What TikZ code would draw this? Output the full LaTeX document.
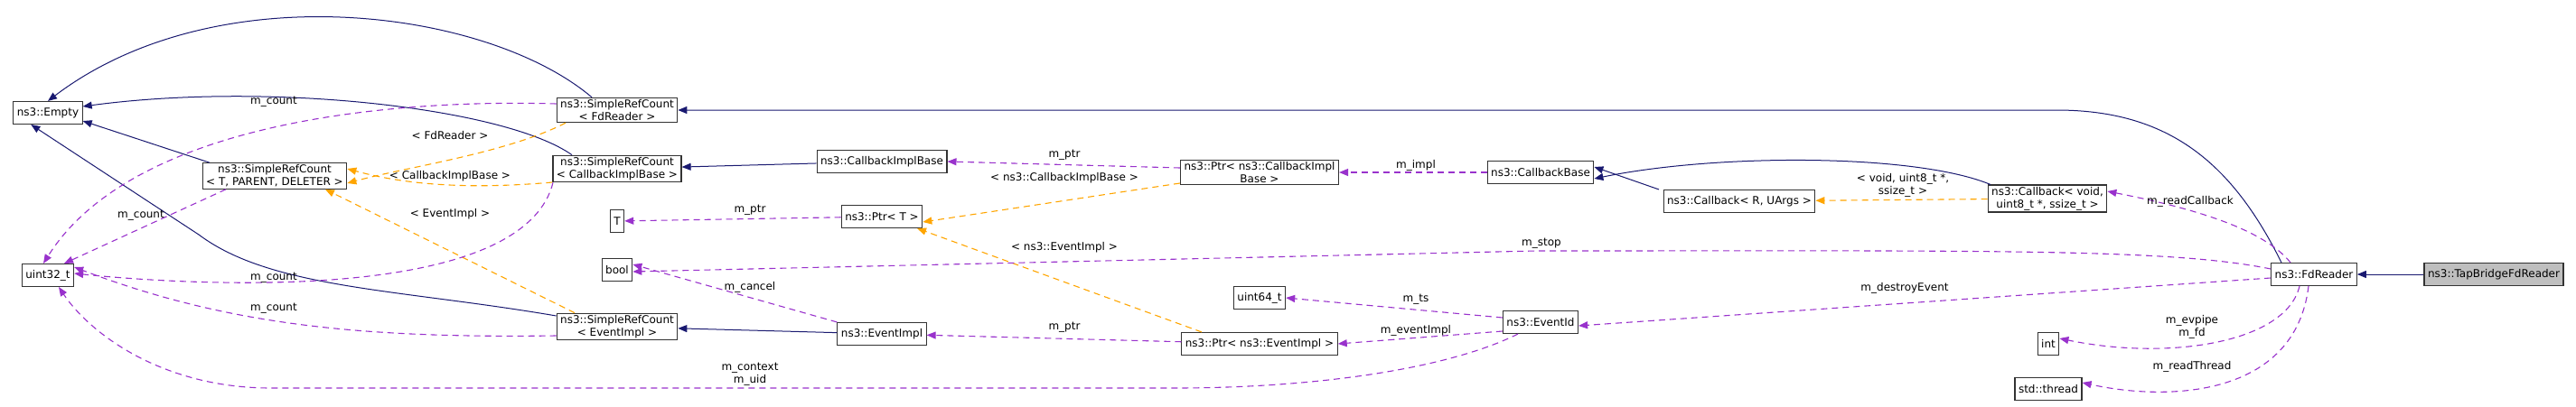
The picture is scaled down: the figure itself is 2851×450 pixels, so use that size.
\documentclass[tikz,border=0pt]{standalone}
\usepackage{fontspec}
\setmainfont{DejaVu Sans}
\usetikzlibrary{arrows.meta, positioning}
\definecolor{inhnavy}{RGB}{25, 25, 112}
\definecolor{usepurple}{RGB}{153, 50, 204}
\definecolor{tplorange}{RGB}{255, 165, 0}

\begin{document}
\begin{tikzpicture}[x=1pt, y=-1pt,
    cls/.style={draw=black!80, line width=1.1pt, fill=white, align=center, inner xsep=4pt, inner ysep=2pt, minimum height=25pt, font=\fontsize{12}{14}\selectfont},
    self/.style={cls, fill=black!25},
    lbl/.style={align=center, inner sep=1pt, font=\fontsize{12}{14}\selectfont},
    inh/.style={-{Triangle[length=10pt, width=8pt]}, inhnavy, line width=1pt},
    tpl/.style={-{Triangle[length=10pt, width=8pt]}, tplorange, dashed, dash pattern=on 7pt off 5pt, line width=1.1pt},
    mbr/.style={-{Triangle[length=10pt, width=8pt]}, usepurple, dashed, dash pattern=on 7pt off 5pt, line width=1.1pt}
]
\useasboundingbox (0,0) rectangle (2851,450);

% Classes
\node[cls] (empty) at (53,125) {ns3::Empty};
\node[cls] (uint32) at (53,305) {uint32\_t};
\node[cls] (srcgen) at (304,195) {ns3::SimpleRefCount\\{}< T, PARENT, DELETER >};
\node[cls] (srcfd) at (683,122) {ns3::SimpleRefCount\\{}< FdReader >};
\node[cls] (srccb) at (683,187) {ns3::SimpleRefCount\\{}< CallbackImplBase >};
\node[cls] (tparam) at (683,245) {T};
\node[cls] (bool) at (683,299) {bool};
\node[cls] (srcev) at (683,362) {ns3::SimpleRefCount\\{}< EventImpl >};
\node[cls] (cbimpl) at (976,179) {ns3::CallbackImplBase};
\node[cls] (ptrt) at (976,240) {ns3::Ptr< T >};
\node[cls] (evimpl) at (976,370) {ns3::EventImpl};
\node[cls] (ptrcb) at (1394,191) {ns3::Ptr< ns3::CallbackImpl\\Base >};
\node[cls] (uint64) at (1394,330) {uint64\_t};
\node[cls] (ptrev) at (1394,381) {ns3::Ptr< ns3::EventImpl >};
\node[cls] (cbbase) at (1705,191) {ns3::CallbackBase};
\node[cls] (evid) at (1705,357) {ns3::EventId};
\node[cls] (cbgen) at (1925,223) {ns3::Callback< R, UArgs >};
\node[cls] (cbvoid) at (2266,220) {ns3::Callback< void,\\uint8\_t *, ssize\_t >};
\node[cls] (int) at (2267,381) {int};
\node[cls] (thread) at (2267,431) {std::thread};
\node[cls] (fdreader) at (2561,304) {ns3::FdReader};
\node[self] (tapfd) at (2760,304) {ns3::TapBridgeFdReader};

% Inheritance
\draw[inh] (srcfd.north) ++(-28,0) .. controls (540,10) and (240,-30) .. (empty.north);
\draw[inh] (srccb.north) ++(-50,0) .. controls (560,120) and (300,90) .. ([yshift=-6pt]empty.north east);
\draw[inh] (srcgen.north) ++(-72,0) -- ([yshift=4pt]empty.south east);
\draw[inh] (srcev.west) ++(0,-12) .. controls (440,320) and (300,320) .. (220,260) -- ([xshift=20pt]empty.south west);
\draw[inh] (fdreader.north) ++(-36,0) .. controls (2470,180) and (2400,122) .. (2276,122) -- (srcfd.east);
\draw[inh] (cbimpl) -- (srccb);
\draw[inh] (evimpl) -- (srcev);
\draw[inh] (cbvoid.north) ++(-63,0) .. controls (2120,170) and (1900,170) .. ([yshift=-7pt]cbbase.east);
\draw[inh] (cbgen.north) ++(-89,0) -- ([yshift=6pt]cbbase.east);
\draw[inh] (tapfd) -- (fdreader);

% Template instances
\draw[tpl] (srcfd.south) ++(-57,0) .. controls (560,170) and (450,185) .. ([yshift=-8pt]srcgen.east);
\draw[tpl] (srccb.west) ++(0,15) .. controls (520,210) and (450,205) .. ([yshift=8pt]srcgen.east);
\draw[tpl] (srcev.north) ++(-47,0) -- ([xshift=56pt]srcgen.south);
\draw[tpl] (ptrcb.west) ++(0,12) -- ([yshift=-6pt]ptrt.east);
\draw[tpl] (ptrev.north) ++(-64,0) -- ([xshift=39pt]ptrt.south);
\draw[tpl] (cbvoid) -- (cbgen);
\node[lbl] (tfd) at (498,150) {< FdReader >};
\node[lbl] (tcb) at (498,195) {< CallbackImplBase >};
\node[lbl] (tev) at (498,237) {< EventImpl >};
\node[lbl] (tpcb) at (1178,197) {< ns3::CallbackImplBase >};
\node[lbl] (tpev) at (1178,274) {< ns3::EventImpl >};
\node[lbl] (tcbv) at (2106,205) {< void, uint8\_t *,\\ssize\_t >};

% Members
\draw[mbr] (srcfd.west) ++(0,-7) .. controls (450,110) and (150,130) .. ([xshift=-5pt]uint32.north);
\draw[mbr] (srcgen.south) ++(-54,0) -- ([xshift=18pt]uint32.north);
\draw[mbr] (srccb.south) ++(-71,0) .. controls (580,330) and (250,320) .. ([yshift=2pt]uint32.east);
\draw[mbr] (srcev.west) ++(0,10) .. controls (400,375) and (250,360) .. ([yshift=9pt]uint32.east);
\draw[mbr] (evid.south) ++(-25,0) .. controls (1600,410) and (1450,430) .. (1300,430) -- (300,430) .. controls (180,430) and (100,370) .. ([xshift=12pt]uint32.south);
\draw[mbr] (ptrt) -- (tparam);
\draw[mbr] (ptrcb.west) ++(0,-5) -- (cbimpl.east);
\draw[mbr] (cbbase) -- (ptrcb);
\draw[mbr] (evimpl.north west) -- ([yshift=6pt]bool.east);
\draw[mbr] (fdreader.west) ++(0,-6) .. controls (2400,275) and (2200,278) .. (1700,278) -- ([yshift=-2pt]bool.east);
\draw[mbr] (ptrev) -- (evimpl);
\draw[mbr] (evid.west) ++(0,10) -- (ptrev.east);
\draw[mbr] (evid.west) ++(0,-5) -- (uint64.east);
\draw[mbr] (fdreader.west) ++(0,4) -- ([yshift=-4pt]evid.east);
\draw[mbr] (fdreader.north) ++(-26,0) .. controls (2510,260) and (2450,235) .. ([yshift=8pt]cbvoid.east);
\draw[mbr] (fdreader.south) ++(-16,0) .. controls (2530,380) and (2400,400) .. ([yshift=6pt]int.east);
\draw[mbr] (fdreader.south) ++(-6,0) .. controls (2540,440) and (2400,445) .. ([yshift=7pt]thread.east);
\node[lbl] (lcnt1) at (303,113) {m\_count};
\node[lbl] (lcnt2) at (156,239) {m\_count};
\node[lbl] (lcnt3) at (303,308) {m\_count};
\node[lbl] (lcnt4) at (303,342) {m\_count};
\node[lbl] (lctx) at (830,415) {m\_context\\m\_uid};
\node[lbl] (lptrt) at (830,233) {m\_ptr};
\node[lbl] (lptrcb) at (1178,172) {m\_ptr};
\node[lbl] (limpl) at (1567,183) {m\_impl};
\node[lbl] (lcancel) at (830,318) {m\_cancel};
\node[lbl] (lstop) at (1706,270) {m\_stop};
\node[lbl] (lptrev) at (1178,363) {m\_ptr};
\node[lbl] (levimpl) at (1567,366) {m\_eventImpl};
\node[lbl] (lts) at (1567,332) {m\_ts};
\node[lbl] (ldestroy) at (2108,319) {m\_destroyEvent};
\node[lbl] (lreadcb) at (2424,223) {m\_readCallback};
\node[lbl] (lfd) at (2426,362) {m\_evpipe\\m\_fd};
\node[lbl] (lthread) at (2426,406) {m\_readThread};
\end{tikzpicture}
\end{document}
